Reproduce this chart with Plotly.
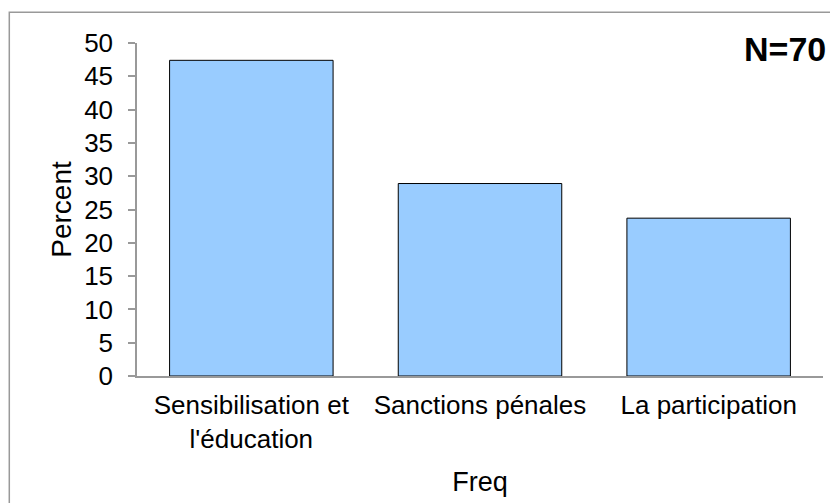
import plotly.graph_objects as go

categories = ["Sensibilisation et<br>l'éducation", "Sanctions pénales", "La participation"]
percent = [47.4, 28.9, 23.7]
y_ticks = [0, 5, 10, 15, 20, 25, 30, 35, 40, 45, 50]

# page body adds an 8px offset; work in screen pixels and subtract it
OFF = 8
W, H = 838, 503
L, R = 137 - OFF, W - (823 - OFF)
T, B = 43.3 - OFF, H - (375.7 - OFF)
pw, ph = W - L - R, H - T - B

def px(x):
    return (x - OFF - L) / pw

def py(y):
    return (H - B - (y - OFF)) / ph

fig = go.Figure()
fig.add_trace(go.Bar(
    x=categories, y=percent,
    marker=dict(color="#99CCFF", line=dict(color="#000000", width=1)),
    width=0.715,
))

font_family = "Liberation Sans, Arial, sans-serif"

fig.update_layout(
    width=W, height=H,
    margin=dict(l=L, r=R, t=T, b=B, autoexpand=False),
    paper_bgcolor="white", plot_bgcolor="white",
    showlegend=False,
    font=dict(family=font_family, color="#000000", size=24),
    xaxis=dict(
        range=[-0.5, 2.5], showline=True, linecolor="#999999", linewidth=1.5,
        ticks="", tickangle=0, tickfont=dict(size=26), ticklabelstandoff=5,
        title=dict(text="Freq", font=dict(size=27), standoff=19),
        showgrid=False, zeroline=False,
    ),
    yaxis=dict(
        range=[0, 50], tickvals=y_ticks, showline=True, linecolor="#999999", linewidth=1.5,
        ticks="outside", ticklen=7, tickcolor="#999999", tickwidth=1.5,
        tickfont=dict(size=26), ticklabelstandoff=10,
        title=dict(text="Percent", font=dict(size=28), standoff=4),
        showgrid=False, zeroline=False,
    ),
    shapes=[dict(
        type="rect", xref="paper", yref="paper",
        x0=px(9.3), x1=px(860), y0=py(530), y1=py(12.7),
        line=dict(color="#999999", width=1.5), fillcolor="rgba(0,0,0,0)", layer="below",
    )],
    annotations=[dict(
        text="<b>N=70</b>", xref="paper", yref="paper",
        x=px(784.5), y=py(49.5), xanchor="center", yanchor="middle",
        showarrow=False, font=dict(size=34, family=font_family, color="#000000"),
    )],
)

fig.write_html("out.html")
